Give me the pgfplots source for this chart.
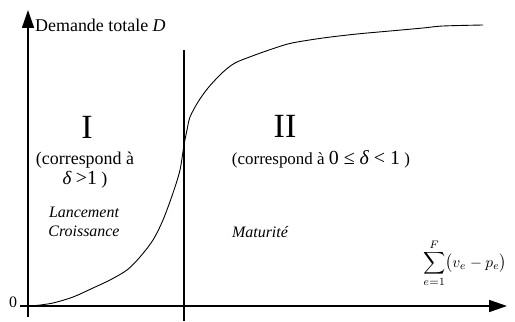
\documentclass[border=0pt]{standalone}
\usepackage{fontspec}
\setmainfont{Liberation Serif}
\usepackage{pgfplots}
\pgfplotsset{compat=1.18}
\usetikzlibrary{arrows.meta}
\newcommand{\fs}[1]{\fontsize{#1}{#1}\selectfont}
\begin{document}
\begin{tikzpicture}
\begin{axis}[
  scale only axis, width=515bp, height=321bp,
  xmin=0, xmax=515, ymin=0, ymax=321, y dir=reverse,
  hide axis, clip=false,
]
\path (axis cs:0,0) rectangle (axis cs:515,321);
% axes
\addplot[line width=1.6bp, -{Triangle[length=18bp,width=12bp]}] coordinates {(20,306) (507,306)};
\addplot[line width=1.6bp, -{Triangle[length=18bp,width=12bp]}] coordinates {(28,317) (28,10)};
% vertical separator
\addplot[line width=1.1bp] coordinates {(184,50) (184,321)};
% demand curve
\addplot[smooth, line width=0.9bp] coordinates {
(36,305.5)(53,303)(73,297)(93,288)(110,280)(127,270)(140,257)(153,240)(163,220)(173,193)(180,170)(184,145)(187,130)(190,117)(198,102)(208,88)(222,73)(235,63)(255,55)(275,48)(292,43)(323,38)(357,34)(390,31)(423,28)(443,26)(483,25)
};
% texts
\node[anchor=west, inner sep=0pt] at (axis cs:35,25) {\fs{18}Demande totale \textit{D}};
\node[inner sep=0pt] at (axis cs:13,302) {\fs{16}0};
\node[inner sep=0pt] at (axis cs:87,127) {\fs{34}I};
\node[inner sep=0pt] at (axis cs:285,126) {\fs{34}II};
\node[inner sep=0pt] at (axis cs:85,160) {\fs{18}(correspond à};
\node[inner sep=0pt] at (axis cs:85,180) {\fs{18}{\fs{19}\itshape δ} {\fs{20}>1} )};
\node[inner sep=0pt] at (axis cs:321,159) {\fs{17}(correspond à {\fs{20}0 ≤ {\itshape δ} <~1}~)};
\node[inner sep=0pt] at (axis cs:84,212) {\fs{16}\itshape Lancement};
\node[inner sep=0pt] at (axis cs:84,231) {\fs{16}\itshape Croissance};
\node[inner sep=0pt] at (axis cs:260,232) {\fs{16}\itshape Maturité};
\node[inner sep=0pt] at (axis cs:465,263) {\scalebox{1.55}{$\displaystyle\sum_{e=1}^{F}\bigl(v_e - p_e\bigr)$}};
\end{axis}
\end{tikzpicture}
\end{document}
